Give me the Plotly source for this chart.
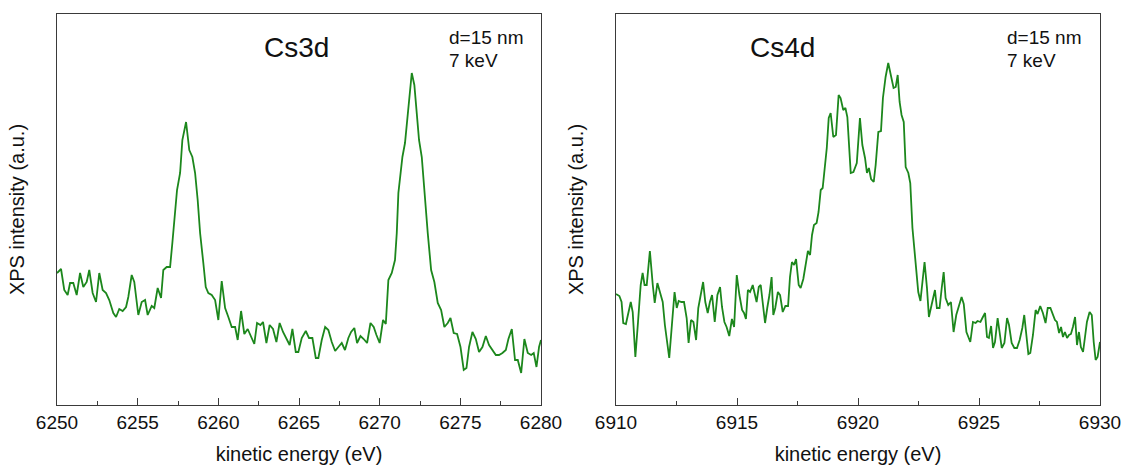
import plotly.graph_objects as go

# ---------------- data ----------------
cs3d_energy = [
    6250.00, 6250.25, 6250.45, 6250.66, 6250.81, 6251.01, 6251.22, 6251.43, 6251.63, 6251.84,
    6252.00, 6252.21, 6252.42, 6252.62, 6252.83, 6253.04, 6253.24, 6253.49, 6253.66, 6253.86,
    6254.07, 6254.28, 6254.42, 6254.63, 6254.79, 6255.04, 6255.25, 6255.46, 6255.62, 6255.87,
    6256.03, 6256.24, 6256.45, 6256.59, 6256.80, 6257.01, 6257.15, 6257.32, 6257.44, 6257.63,
    6257.77, 6258.00, 6258.20, 6258.39, 6258.56, 6258.72, 6258.87, 6259.07, 6259.22, 6259.38,
    6259.59, 6259.80, 6260.00, 6260.21, 6260.42, 6260.62, 6260.83, 6261.04, 6261.20, 6261.41,
    6261.61, 6261.82, 6262.03, 6262.23, 6262.40, 6262.61, 6262.77, 6262.98, 6263.18, 6263.39,
    6263.60, 6263.80, 6264.01, 6264.22, 6264.42, 6264.59, 6264.80,
    6264.96, 6265.17, 6265.42, 6265.62, 6265.83, 6266.04, 6266.20, 6266.41, 6266.62, 6266.82,
    6267.03, 6267.24, 6267.44, 6267.65, 6267.85, 6268.06, 6268.23, 6268.43, 6268.60, 6268.81,
    6269.01, 6269.22, 6269.43, 6269.63, 6269.80, 6270.00, 6270.21, 6270.38, 6270.54, 6270.75,
    6270.95, 6271.06, 6271.16, 6271.33, 6271.41, 6271.57, 6271.78, 6271.99, 6272.15, 6272.32,
    6272.44, 6272.61, 6272.77, 6272.98, 6273.19, 6273.39, 6273.60, 6273.81, 6274.01, 6274.22,
    6274.39, 6274.59, 6274.80, 6275.01, 6275.21, 6275.38, 6275.54, 6275.75, 6275.96, 6276.16,
    6276.37, 6276.58, 6276.78, 6276.99, 6277.20, 6277.40, 6277.61, 6277.82, 6277.98, 6278.19,
    6278.39, 6278.56, 6278.77, 6278.97, 6279.18, 6279.39, 6279.55, 6279.72, 6279.88, 6280.00,
]
cs3d_intensity = [
    132, 136, 115, 110, 122, 122, 110, 132, 118, 123,
    135, 112, 103, 132, 115, 112, 105, 92, 88, 96,
    94, 98, 108, 130, 123, 90, 103, 105, 90, 99,
    97, 117, 107, 135, 138, 138, 162, 192, 215, 232,
    265, 283, 255, 248, 232, 205, 172, 142, 118, 112,
    110, 105, 85, 124, 97, 88, 78, 78, 65, 94,
    71, 76, 68, 61, 82, 80, 83, 62, 80, 76,
    63, 82, 73, 67, 60, 76, 53,
    53, 67, 74, 67, 67, 47, 47, 65, 78, 75,
    63, 54, 58, 62, 55, 67, 73, 77, 62, 69,
    66, 62, 82, 78, 70, 62, 85, 81, 125, 132,
    145, 172, 212, 235, 248, 262, 295, 332, 320, 288,
    265, 248, 212, 172, 135, 123, 102, 95, 78, 82,
    87, 72, 71, 58, 35, 37, 58, 73, 66, 53,
    58, 69, 60, 55, 50, 50, 52, 55, 66, 76,
    45, 45, 32, 66, 52, 50, 52, 38, 58, 65,
]

cs4d_energy = [
    6910.00, 6910.14, 6910.23, 6910.30, 6910.41, 6910.51, 6910.61, 6910.69, 6910.80, 6910.91,
    6911.02, 6911.10, 6911.18, 6911.27, 6911.40, 6911.52, 6911.60, 6911.71, 6911.82, 6911.93,
    6912.02, 6912.12, 6912.20, 6912.31, 6912.42, 6912.51, 6912.59, 6912.70, 6912.81, 6912.92,
    6913.00, 6913.10, 6913.20, 6913.31, 6913.40, 6913.50, 6913.60, 6913.69, 6913.79, 6913.88,
    6913.97, 6914.08, 6914.19, 6914.30, 6914.38, 6914.48, 6914.57, 6914.68, 6914.79, 6914.88,
    6914.99, 6915.10, 6915.21, 6915.29, 6915.37, 6915.45, 6915.54, 6915.65, 6915.73, 6915.81,
    6915.90, 6915.98, 6916.06, 6916.16, 6916.25, 6916.34, 6916.43, 6916.50, 6916.58, 6916.69,
    6916.78, 6916.89, 6917.00, 6917.11, 6917.19, 6917.27, 6917.36, 6917.44, 6917.55, 6917.63,
    6917.74, 6917.85, 6917.93, 6918.02, 6918.10, 6918.18, 6918.29, 6918.37, 6918.46, 6918.54,
    6918.62, 6918.71, 6918.79, 6918.87, 6918.98, 6919.09, 6919.20, 6919.28, 6919.39, 6919.48,
    6919.56, 6919.64, 6919.70, 6919.81, 6919.95,
    6920.08, 6920.18, 6920.29, 6920.37, 6920.45, 6920.54, 6920.65, 6920.73, 6920.84, 6920.95,
    6921.03, 6921.14, 6921.25, 6921.36, 6921.47, 6921.56, 6921.64, 6921.72, 6921.80, 6921.89,
    6921.97, 6922.08, 6922.16, 6922.25, 6922.33, 6922.41, 6922.49, 6922.58, 6922.66, 6922.75,
    6922.85, 6922.93, 6923.04, 6923.13, 6923.18, 6923.26, 6923.37, 6923.46, 6923.54, 6923.62,
    6923.73, 6923.84, 6923.95, 6924.06, 6924.17, 6924.28, 6924.37, 6924.48, 6924.56, 6924.64,
    6924.75, 6924.86, 6924.94, 6925.06, 6925.14, 6925.25, 6925.33, 6925.41, 6925.50, 6925.58,
    6925.66, 6925.77, 6925.85, 6925.94, 6926.05, 6926.16, 6926.24, 6926.35, 6926.46, 6926.57,
    6926.68, 6926.79, 6926.87, 6926.96, 6927.04, 6927.12, 6927.23, 6927.34, 6927.42, 6927.53,
    6927.64, 6927.75, 6927.84, 6927.95, 6928.06, 6928.14, 6928.22, 6928.31, 6928.39, 6928.47,
    6928.55, 6928.64, 6928.72, 6928.80, 6928.88, 6928.97, 6929.05, 6929.13, 6929.21, 6929.30,
    6929.38, 6929.46, 6929.57, 6929.66, 6929.74, 6929.82, 6929.90, 6930.00,
]
cs4d_intensity = [
    111, 109, 103, 82, 81, 93, 103, 93, 48, 83,
    120, 132, 120, 120, 154, 120, 102, 122, 113, 103,
    80, 63, 47, 80, 113, 97, 104, 103, 103, 87,
    62, 85, 83, 65, 97, 110, 123, 103, 92, 103,
    110, 83, 110, 118, 98, 83, 78, 69, 86, 78,
    130, 110, 95, 92, 86, 115, 113, 120, 112, 103,
    118, 120, 103, 82, 97, 110, 128, 90, 97, 113,
    110, 93, 99, 99, 128, 143, 140, 146, 120, 117,
    126, 145, 154, 150, 170, 180, 182, 193, 215, 217,
    233, 257, 287, 292, 268, 270, 310, 307, 295, 297,
    288, 257, 232, 233, 242,
    287, 260, 247, 232, 237, 226, 223, 240, 273, 274,
    307, 328, 342, 330, 317, 318, 330, 303, 290, 283,
    238, 232, 222, 177, 157, 137, 113, 104, 123, 143,
    117, 88, 100, 110, 115, 97, 97, 117, 133, 107,
    100, 103, 73, 90, 99, 108, 101, 73, 68, 63,
    83, 82, 84, 83, 87, 92, 68, 67, 79, 57,
    63, 87, 73, 57, 62, 87, 80, 62, 57, 57,
    65, 77, 90, 67, 51, 52, 70, 95, 91, 99,
    92, 82, 97, 97, 90, 85, 83, 72, 78, 68,
    73, 67, 70, 71, 78, 88, 60, 73, 58, 53,
    68, 83, 93, 90, 63, 45, 48, 63,
]

panel_labels = ["Cs3d", "Cs4d"]
condition_lines = ["d=15 nm", "7 keV"]
x_ranges = [[6250, 6280], [6910, 6930]]
x_title = "kinetic energy (eV)"
y_title = "XPS intensity (a.u.)"

# ---------------- figure ----------------
W, H = 1122, 465
FONT = "Liberation Sans, Arial, sans-serif"
LINE_COLOR = "#1c871c"
AX_COLOR = "#3a3a3a"
TXT = "#111111"

fig = go.Figure()
fig.add_trace(go.Scatter(x=cs3d_energy, y=cs3d_intensity, mode="lines",
                         line=dict(color=LINE_COLOR, width=1.8),
                         xaxis="x", yaxis="y", showlegend=False))
fig.add_trace(go.Scatter(x=cs4d_energy, y=cs4d_intensity, mode="lines",
                         line=dict(color=LINE_COLOR, width=1.8),
                         xaxis="x2", yaxis="y2", showlegend=False))

ml, mr, mt, mb = 57, 22, 14, 60
pw = W - ml - mr


def xaxis_cfg(rng, dom, anchor):
    return dict(
        domain=dom, range=rng, anchor=anchor, automargin=False,
        showline=True, linecolor=AX_COLOR, linewidth=1, mirror=True,
        showgrid=False, zeroline=False,
        tick0=rng[0], dtick=5, ticks="inside", ticklen=7, tickwidth=1, tickcolor=AX_COLOR,
        minor=dict(dtick=2.5, ticks="inside", ticklen=4, tickwidth=1, tickcolor=AX_COLOR, showgrid=False),
        tickfont=dict(family=FONT, size=19, color=TXT),
        title=dict(text=x_title, font=dict(family=FONT, size=20, color=TXT), standoff=15),
    )


def yaxis_cfg(anchor):
    return dict(
        domain=[0, 1], range=[0, 391], anchor=anchor, automargin=False,
        showline=True, linecolor=AX_COLOR, linewidth=1, mirror=True,
        showgrid=False, zeroline=False, showticklabels=False, ticks="",
        title=dict(text=y_title, font=dict(family=FONT, size=20, color=TXT), standoff=26),
    )


fig.update_layout(
    width=W, height=H,
    margin=dict(l=ml, r=mr, t=mt, b=mb, autoexpand=False),
    paper_bgcolor="white", plot_bgcolor="white",
    xaxis=xaxis_cfg(x_ranges[0], [0, 484 / pw], "y"),
    yaxis=yaxis_cfg("x"),
    xaxis2=xaxis_cfg(x_ranges[1], [(616 - ml) / pw, 1], "y2"),
    yaxis2=yaxis_cfg("x2"),
    hovermode=False,
)

annos = []
for i, (xr, yr) in enumerate([("x domain", "y domain"), ("x2 domain", "y2 domain")]):
    cx = 0.494 if i == 0 else 0.345
    annos.append(dict(text=panel_labels[i], xref=xr, yref=yr, x=cx, y=0.915,
                      xanchor="center", yanchor="middle", showarrow=False,
                      font=dict(family=FONT, size=28, color=TXT)))
    lx = 0.805 if i == 0 else 0.803
    annos.append(dict(text=condition_lines[0], xref=xr, yref=yr, x=lx, y=0.94,
                      xanchor="left", yanchor="middle", showarrow=False,
                      font=dict(family=FONT, size=19, color=TXT)))
    annos.append(dict(text=condition_lines[1], xref=xr, yref=yr, x=lx, y=0.88,
                      xanchor="left", yanchor="middle", showarrow=False,
                      font=dict(family=FONT, size=19, color=TXT)))
fig.update_layout(annotations=annos)

# remove the browser's default 8px page margin so the figure sits at the window's corner
fig.write_html("out.html",
               config={"displayModeBar": False, "staticPlot": True},
               post_script="document.body.style.margin='0';document.body.style.overflow='hidden';")
